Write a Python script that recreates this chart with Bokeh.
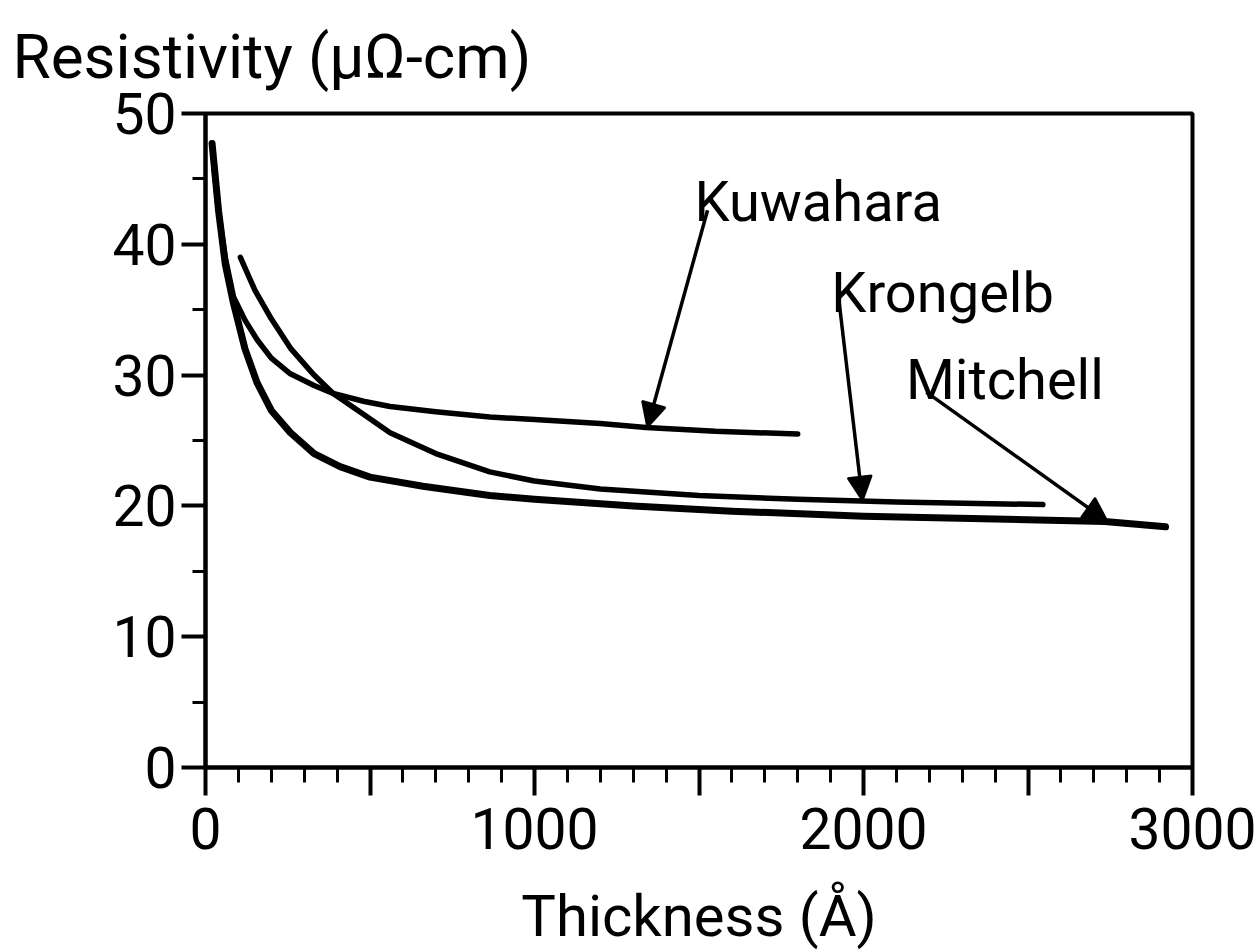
from bokeh.plotting import figure
from bokeh.models import (Range1d, FixedTicker, Label, Arrow, NormalHead, Title,
                          ColumnDataSource)
from bokeh.embed import file_html
from bokeh.resources import INLINE

FONT = "Roboto"

# ---- data ----
mitchell_x = [20, 40, 60, 85, 120, 157, 200, 258, 330, 409, 500, 661, 864, 1000,
              1300, 1600, 2000, 2400, 2733, 2918]
mitchell_y = [47.7, 42.5, 38.5, 35.5, 32.0, 29.4, 27.3, 25.6, 24.0, 23.0, 22.2, 21.5,
              20.8, 20.5, 20.0, 19.6, 19.2, 19.0, 18.8, 18.4]

kuwahara_x = [25, 40, 60, 85, 120, 157, 200, 258, 330, 388, 480, 561, 700, 864, 1000,
              1200, 1339, 1550, 1800]
kuwahara_y = [46.0, 42.5, 39.0, 36.0, 34.2, 32.7, 31.3, 30.1, 29.2, 28.6, 28.0, 27.6,
              27.2, 26.8, 26.6, 26.3, 26.0, 25.7, 25.5]

krongelb_x = [106, 150, 200, 260, 330, 388, 480, 561, 700, 864, 1000, 1200, 1500, 1800,
              2100, 2545]
krongelb_y = [39.0, 36.5, 34.3, 32.0, 30.0, 28.6, 27.0, 25.6, 24.0, 22.6, 21.9, 21.3,
              20.8, 20.5, 20.3, 20.1]

series_names = ["Kuwahara", "Krongelb", "Mitchell"]
label_x = [1486, 1902, 2129]
label_y = [43.2, 36.3, 29.6]
arrow_x_start = [1526, 1924, 2191]
arrow_y_start = [42.6, 36.0, 28.7]
arrow_x_end = [1343, 1997, 2742]
arrow_y_end = [26.0, 20.4, 18.8]

x_major = [0, 500, 1000, 1500, 2000, 2500, 3000]
x_minor = [v for v in range(100, 3000, 100)]
x_labels = {0: "0", 500: "", 1000: "1000", 1500: "", 2000: "2000", 2500: "", 3000: "3000"}
y_major = [0, 10, 20, 30, 40, 50]
y_minor = [5, 15, 25, 35, 45]

title_text = "Resistivity (\u03bc\u03a9-cm)"
x_title = "Thickness (\u00c5)"

# ---- figure ----
p = figure(width=1258, height=952, output_backend="svg", toolbar_location=None,
           x_range=Range1d(0, 3000), y_range=Range1d(0, 50),
           min_border_left=205, min_border_right=66, min_border_top=113,
           min_border_bottom=184)
p.grid.visible = False
p.title.visible = False
p.background_fill_color = "white"
p.border_fill_color = "white"
p.outline_line_color = "black"
p.outline_line_width = 4

t = Title(text=title_text, align="left", vertical_align="top", offset=-193,
          standoff=38, text_font=FONT, text_font_size="62px",
          text_font_style="normal", text_color="black")
p.add_layout(t, "above")

xa = p.xaxis[0]
xa.ticker = FixedTicker(ticks=x_major, minor_ticks=x_minor)
xa.major_label_overrides = x_labels
xa.axis_line_width = 4
xa.major_tick_line_width = 4
xa.minor_tick_line_width = 3
xa.major_tick_out = 28
xa.major_tick_in = 0
xa.minor_tick_out = 15
xa.minor_tick_in = 0
xa.major_label_text_font = FONT
xa.major_label_text_font_size = "57px"
xa.major_label_text_color = "black"
xa.major_label_standoff = 12
xa.axis_label = x_title
xa.axis_label_text_font = FONT
xa.axis_label_text_font_size = "58px"
xa.axis_label_text_font_style = "normal"
xa.axis_label_text_color = "black"
xa.axis_label_standoff = 30

ya = p.yaxis[0]
ya.ticker = FixedTicker(ticks=y_major, minor_ticks=y_minor)
ya.axis_line_width = 4
ya.major_tick_line_width = 4
ya.minor_tick_line_width = 3
ya.major_tick_out = 24
ya.major_tick_in = 0
ya.minor_tick_out = 13
ya.minor_tick_in = 0
ya.major_label_text_font = FONT
ya.major_label_text_font_size = "57px"
ya.major_label_text_color = "black"
ya.major_label_standoff = 5

# ---- curves ----
p.line(mitchell_x, mitchell_y, line_width=7, line_color="black", line_cap="round",
       line_join="round")
p.line(kuwahara_x, kuwahara_y, line_width=5.5, line_color="black", line_cap="round",
       line_join="round")
p.line(krongelb_x, krongelb_y, line_width=5.5, line_color="black", line_cap="round",
       line_join="round")

# ---- annotations ----
asrc = ColumnDataSource(dict(x0=arrow_x_start, y0=arrow_y_start,
                             x1=arrow_x_end, y1=arrow_y_end))
p.add_layout(Arrow(x_start="x0", y_start="y0", x_end="x1", y_end="y1", source=asrc,
                   line_width=3.5, line_color="black",
                   end=NormalHead(size=24, fill_color="black", line_color="black",
                                  line_width=2)))

for name, lx, ly in zip(series_names, label_x, label_y):
    p.add_layout(Label(x=lx, y=ly, text=name, text_font=FONT, text_font_size="56px",
                       text_align="left", text_baseline="alphabetic",
                       text_color="black"))

open("out.html", "w").write(file_html(p, INLINE))
